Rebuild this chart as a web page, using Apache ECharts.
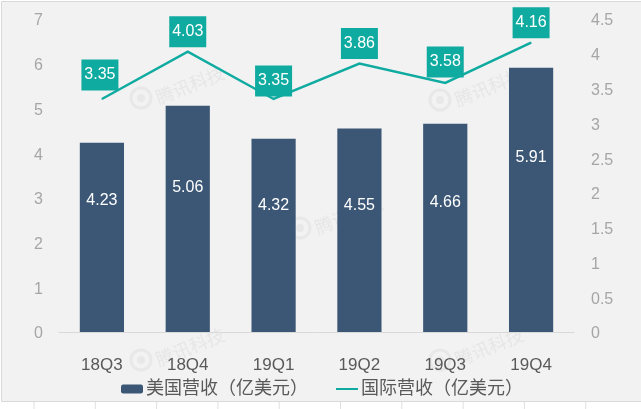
<!DOCTYPE html>
<html>
<head>
<meta charset="utf-8">
<style>
  html, body { margin: 0; padding: 0; background: #fff; }
  #chart { width: 641px; height: 409px; }
</style>
<script src="https://cdn.jsdelivr.net/npm/echarts@6/dist/echarts.min.js"></script>
</head>
<body>
<div id="chart"></div>
<script>
const categories = ['18Q3', '18Q4', '19Q1', '19Q2', '19Q3', '19Q4'];
const usRevenue = [4.23, 5.06, 4.32, 4.55, 4.66, 5.91];
const intlRevenue = [3.35, 4.03, 3.35, 3.86, 3.58, 4.16];
const leftTicks = [0, 7, 1];
const rightTicks = [0, 4.5, 0.5];

// label nudges, the reference has them placed by hand
const barLabelShift = [-37, -31, -30, -25, -25, -42];
const lineLabelShift = [[-2, -24], [0, -20], [0, -18], [0, -20], [0, -21], [0, -20]];

const FONT = '"Liberation Sans", "Noto Sans CJK SC", sans-serif';
const NAVY = '#3b5775';
const TEAL = '#10aba0';

// y tick labels sit about 2px under their tick in the reference, plain padding is ignored when centred
const yLabelRich = { t: { color: '#a6a6a6', fontSize: 16, fontFamily: FONT, padding: [4, 0, 0, 0] } };

// faint watermark: logo ring plus rotated text
const watermark = (x, y) => [
  { type: 'circle', z: 0, silent: true, shape: { cx: x, cy: y, r: 10 },
    style: { fill: 'none', stroke: '#e8e8e8', lineWidth: 3 } },
  { type: 'circle', z: 0, silent: true, shape: { cx: x, cy: y, r: 4 },
    style: { fill: '#e8e8e8' } },
  { type: 'text', z: 0, silent: true, x: x + 49, y: y - 13, rotation: 0.38,
    style: { text: '腾讯科技', fill: '#e6e6e6', font: '18px "Noto Sans CJK SC"',
      align: 'center', verticalAlign: 'middle' } }
];

const rulerTicks = [];
for (let x = 34; x < 641; x += 61.3) {
  rulerTicks.push({ type: 'line', silent: true, z: 0, shape: { x1: x, y1: 402, x2: x, y2: 409 },
    style: { stroke: '#e0e0e0', lineWidth: 1 } });
}

const chart = echarts.init(document.getElementById('chart'), null, { renderer: 'canvas' });
chart.setOption({
  animation: false,
  backgroundColor: '#ffffff',
  textStyle: { fontFamily: FONT },
  graphic: [
    { type: 'rect', z: -1, silent: true, shape: { x: 1.5, y: 1.5, width: 645, height: 400 },
      style: { fill: '#f2f2f2', stroke: '#d9d9d9', lineWidth: 1 } },
    ...rulerTicks,
    ...watermark(141, 98),
    ...watermark(440, 100),
    ...watermark(300, 228),
    ...watermark(141, 360),
    ...watermark(440, 360)
  ],
  legend: {
    left: 121,
    top: 380,
    itemWidth: 22,
    itemHeight: 9,
    itemGap: 27,
    padding: 0,
    textStyle: { fontSize: 18, color: '#595959', fontFamily: FONT, padding: [0, 0, 0, -2] },
    // opacity 0 drops the dot the legend puts on the line icon
    data: ['美国营收（亿美元）', { name: '国际营收（亿美元）', itemStyle: { opacity: 0 } }]
  },
  grid: { left: 59, right: 67, top: 19, bottom: 77 },
  xAxis: {
    type: 'category',
    data: categories,
    axisTick: { show: false },
    axisLine: { lineStyle: { color: '#d9d9d9', width: 1 } },
    axisLabel: { color: '#595959', fontSize: 17, margin: 25, fontFamily: FONT }
  },
  yAxis: [
    {
      type: 'value', min: leftTicks[0], max: leftTicks[1], interval: leftTicks[2],
      splitLine: { show: false }, axisLine: { show: false }, axisTick: { show: false },
      axisLabel: { margin: 16, formatter: '{t|{value}}', rich: yLabelRich }
    },
    {
      type: 'value', min: rightTicks[0], max: rightTicks[1], interval: rightTicks[2],
      splitLine: { show: false }, axisLine: { show: false }, axisTick: { show: false },
      axisLabel: { margin: 17, formatter: '{t|{value}}', rich: yLabelRich }
    }
  ],
  series: [
    {
      name: '美国营收（亿美元）',
      type: 'bar',
      barWidth: '51.5%',
      itemStyle: { color: NAVY },
      data: usRevenue.map((v, i) => ({
        value: v,
        label: {
          show: true, position: 'inside', offset: [0, barLabelShift[i]],
          color: '#fff', fontSize: 16, fontFamily: FONT
        }
      }))
    },
    {
      name: '国际营收（亿美元）',
      type: 'line',
      yAxisIndex: 1,
      symbol: 'none',
      z: 3,
      lineStyle: { color: TEAL, width: 2.5, cap: 'butt', join: 'miter' },
      itemStyle: { color: TEAL },
      // series symbol stays none so the legend shows a bare line, points only carry the label boxes
      data: intlRevenue.map((v, i) => ({
        value: v,
        symbol: 'circle',
        symbolSize: 1,
        label: {
          show: true, position: 'inside', offset: lineLabelShift[i],
          color: '#fff', fontSize: 16, fontFamily: FONT,
          backgroundColor: TEAL, width: 37, height: 31, lineHeight: 31, align: 'center', verticalAlign: 'middle'
        }
      }))
    }
  ]
});
</script>
</body>
</html>
